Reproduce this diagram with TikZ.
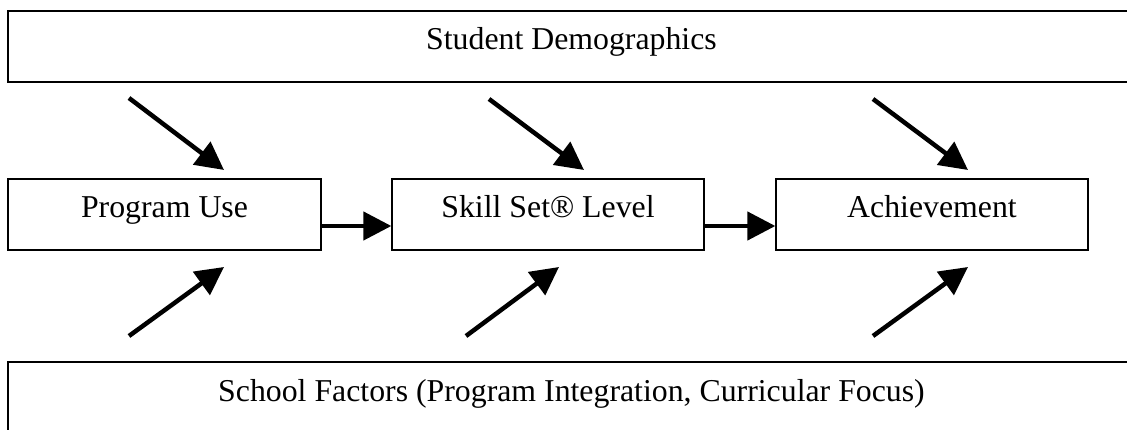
\documentclass[tikz,border=0pt]{standalone}
\usepackage{fontspec}
\setmainfont{Liberation Serif}
\usetikzlibrary{arrows.meta}
\tikzset{
  boxnode/.style={draw=black, line width=1.3pt, fill=none, inner sep=0pt,
    text height=22pt, text depth=15pt, font=\fontsize{31.8}{38}\selectfont},
  bigarrow/.style={draw=black, line width=4.5pt,
    -{Triangle[length=28pt, width=28pt]}}
}
\begin{document}
\begin{tikzpicture}[x=1pt,y=-1pt]
\fill[white] (0,0) rectangle (1127,430);
\clip (0,0) rectangle (1127,430);
% top and bottom bands
\node[boxnode, minimum width=1127pt, minimum height=71pt] (demo) at (571.5,46.5) {Student Demographics};
\node[boxnode, minimum width=1127pt, minimum height=72pt] (school) at (571.5,398) {School Factors (Program Integration, Curricular Focus)};
% middle boxes
\node[boxnode, minimum width=313pt, minimum height=71pt] (prog) at (164.5,214.5) {Program Use};
\node[boxnode, minimum width=312pt, minimum height=71pt] (skill) at (548,214.5) {Skill Set® Level};
\node[boxnode, minimum width=312pt, minimum height=71pt] (ach) at (932,214.5) {Achievement};
% horizontal connectors
\draw[bigarrow] (prog.east |- 0,226) -- (skill.west |- 0,226);
\draw[bigarrow] (skill.east |- 0,226) -- (ach.west |- 0,226);
% free ends of the diagonal arrows
\coordinate (d1s) at (129,98);  \coordinate (d1e) at (224,170);
\coordinate (d2s) at (489,99);  \coordinate (d2e) at (584,170);
\coordinate (d3s) at (873,99);  \coordinate (d3e) at (968,170);
\coordinate (u1s) at (129,336); \coordinate (u1e) at (224,267);
\coordinate (u2s) at (466,336); \coordinate (u2e) at (559,267);
\coordinate (u3s) at (873,336); \coordinate (u3e) at (968,267);
\draw[bigarrow] (d1s) -- (d1e);
\draw[bigarrow] (d2s) -- (d2e);
\draw[bigarrow] (d3s) -- (d3e);
\draw[bigarrow] (u1s) -- (u1e);
\draw[bigarrow] (u2s) -- (u2e);
\draw[bigarrow] (u3s) -- (u3e);
\end{tikzpicture}
\end{document}
